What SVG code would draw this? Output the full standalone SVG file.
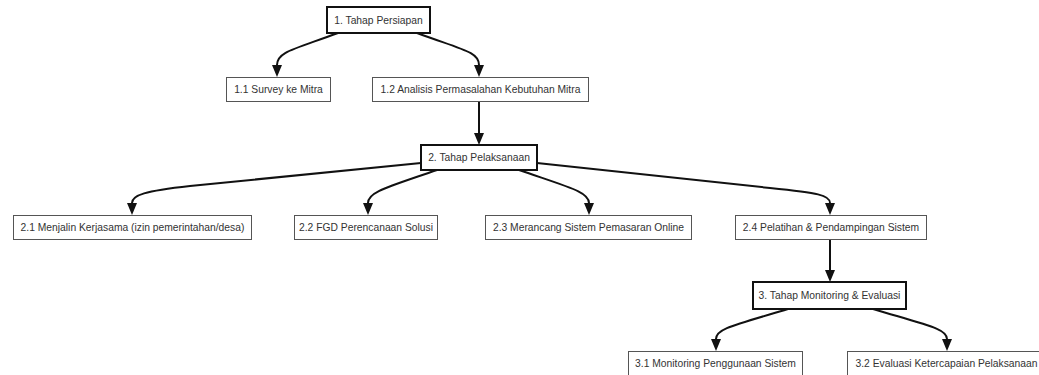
<svg xmlns="http://www.w3.org/2000/svg" width="1039" height="375" viewBox="0 0 1039 375">
<style>
.box{fill:#fff;stroke:#555;stroke-width:1}
.main{fill:#fff;stroke:#111;stroke-width:2}
.t{font-family:"Liberation Sans",Arial,sans-serif;font-size:10.3px;fill:#333;text-anchor:middle;dominant-baseline:central}
.e{fill:none;stroke:#111;stroke-width:2}
</style>
<defs>
<marker id="ah" viewBox="0 0 12 10" markerWidth="12" markerHeight="10" refX="0" refY="5" orient="auto" markerUnits="userSpaceOnUse">
<path d="M0,0 L12,5 L0,10 z" fill="#111"/>
</marker>
</defs>
<rect width="1039" height="375" fill="#fff"/>
<g id="connectors">
<path class="e" marker-end="url(#ah)" d="M338,33 C292,50 277,52 277,65"/>
<path class="e" marker-end="url(#ah)" d="M417,33 C463,50 479,52 479,65"/>
<path class="e" marker-end="url(#ah)" d="M479,101 L479,133"/>
<path class="e" marker-end="url(#ah)" d="M421,163 L190,186 C145,191 132,195 132,203"/>
<path class="e" marker-end="url(#ah)" d="M437,170 C385,188 368,192 368,203"/>
<path class="e" marker-end="url(#ah)" d="M519,170 C571,188 589,192 589,203"/>
<path class="e" marker-end="url(#ah)" d="M537,163 L770,188 C818,193 830,195 830,203"/>
<path class="e" marker-end="url(#ah)" d="M830,239 L830,270"/>
<path class="e" marker-end="url(#ah)" d="M788,309 C731,326 716,329 716,339"/>
<path class="e" marker-end="url(#ah)" d="M873,309 C930,326 947,329 947,339"/>
</g>
<g id="n1"><rect class="main" x="327" y="7" width="103" height="26"/><text class="t" x="378.5" y="20">1. Tahap Persiapan</text></g>
<g id="n11"><rect class="box" x="226.5" y="77.5" width="104" height="24"/><text class="t" x="278.5" y="89.5">1.1 Survey ke Mitra</text></g>
<g id="n12"><rect class="box" x="372.5" y="77.5" width="216" height="24"/><text class="t" x="480.5" y="89.5">1.2 Analisis Permasalahan Kebutuhan Mitra</text></g>
<g id="n2"><rect class="main" x="421" y="145" width="116" height="25"/><text class="t" x="479" y="157.5">2. Tahap Pelaksanaan</text></g>
<g id="n21"><rect class="box" x="13.5" y="215.5" width="238" height="24"/><text class="t" x="132.5" y="227.5">2.1 Menjalin Kerjasama (izin pemerintahan/desa)</text></g>
<g id="n22"><rect class="box" x="294.5" y="215.5" width="143" height="24"/><text class="t" x="366" y="227.5">2.2 FGD Perencanaan Solusi</text></g>
<g id="n23"><rect class="box" x="485.5" y="215.5" width="206" height="24"/><text class="t" x="588.5" y="227.5">2.3 Merancang Sistem Pemasaran Online</text></g>
<g id="n24"><rect class="box" x="735.5" y="215.5" width="191" height="24"/><text class="t" x="831" y="227.5">2.4 Pelatihan &amp; Pendampingan Sistem</text></g>
<g id="n3"><rect class="main" x="753" y="282" width="153" height="27"/><text class="t" x="829.5" y="295.5">3. Tahap Monitoring &amp; Evaluasi</text></g>
<g id="n31"><rect class="box" x="628.5" y="351.5" width="174" height="24"/><text class="t" x="715.5" y="363">3.1 Monitoring Penggunaan Sistem</text></g>
<g id="n32"><rect class="box" x="847.5" y="351.5" width="198" height="24"/><text class="t" x="946.5" y="363">3.2 Evaluasi Ketercapaian Pelaksanaan</text></g>
</svg>
